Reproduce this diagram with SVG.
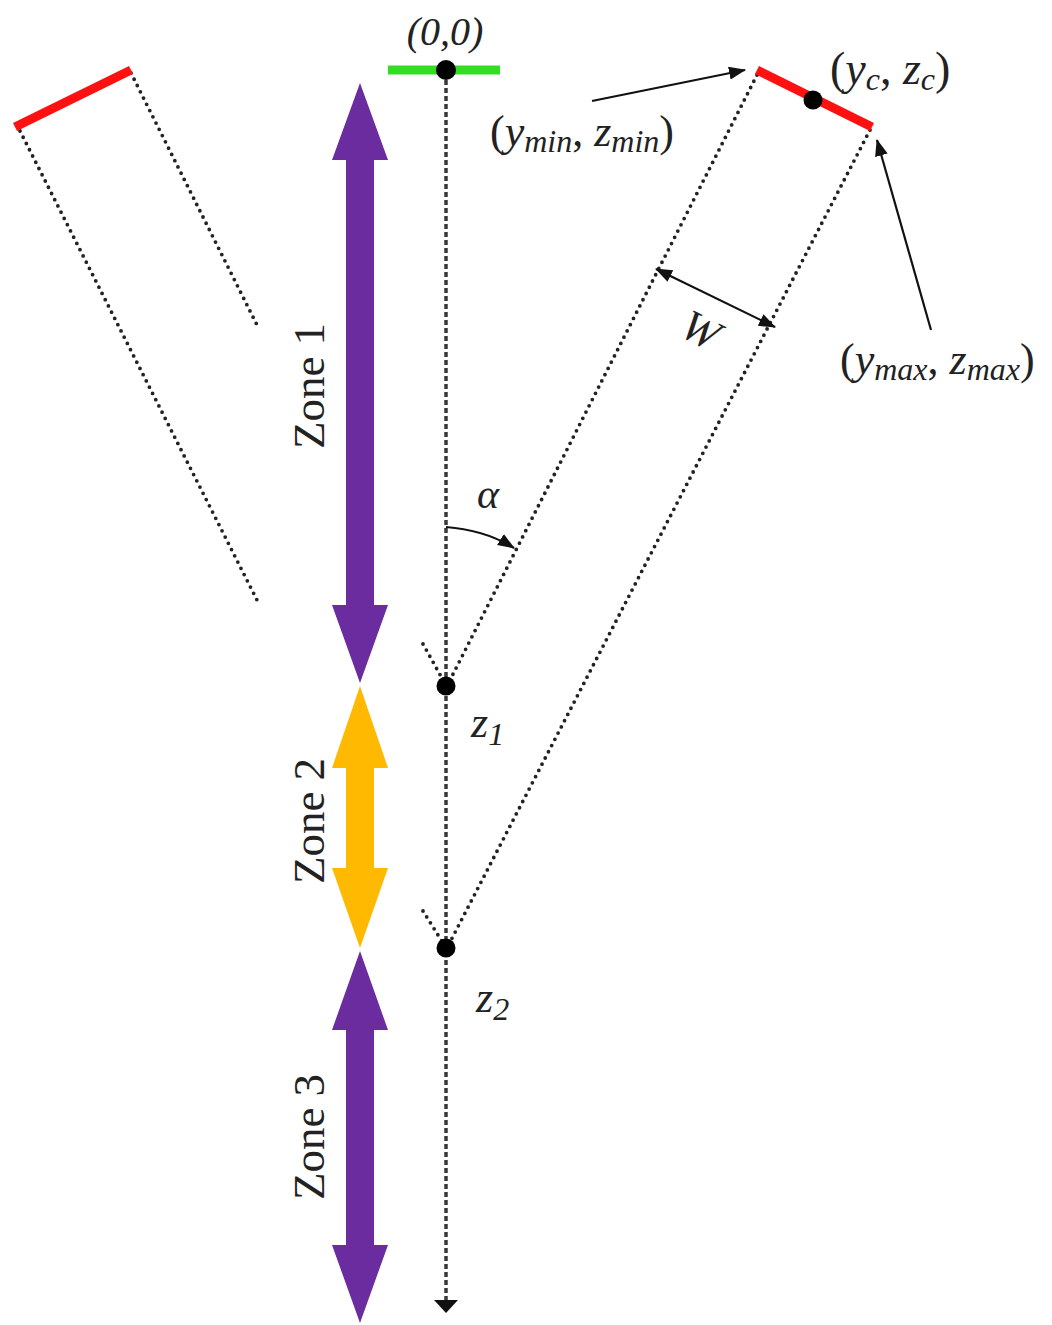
<svg xmlns="http://www.w3.org/2000/svg" width="1052" height="1325" viewBox="0 0 1052 1325">
<style>
.t{font-family:"Liberation Serif","Times New Roman",serif;fill:#222}
.i{font-style:italic}
.dash{stroke:#3a3a3a;stroke-width:3.5;stroke-dasharray:5 3;fill:none}
.dot{stroke:#222;stroke-width:3.8;stroke-dasharray:0 7;stroke-linecap:round;fill:none}
.ptr{stroke:#111;stroke-width:2.2;fill:none}
</style>
<defs>
<marker id="ahs" markerWidth="17" markerHeight="13" refX="16" refY="6.5" orient="auto-start-reverse" markerUnits="userSpaceOnUse" viewBox="0 0 17 13">
<path d="M0,0 L17,6.5 L0,13 z" fill="#111"/>
</marker>
</defs>

<g id="connectors">
<line class="dash" x1="446" y1="72" x2="446" y2="1302"/>
<path d="M434,1300 L458,1300 L446,1313 z" fill="#111"/>
<line class="dot" x1="757" y1="75" x2="448" y2="684"/>
<line class="dot" x1="870" y1="130" x2="448" y2="946"/>
<line class="dot" x1="423" y1="644" x2="443" y2="680"/>
<line class="dot" x1="423" y1="911" x2="443" y2="943"/>
<line class="dot" x1="20" y1="131" x2="258" y2="602"/>
<line class="dot" x1="131" y1="73" x2="258" y2="327"/>
<line class="ptr" x1="592" y1="101" x2="745" y2="70" marker-end="url(#ahs)"/>
<line class="ptr" x1="931" y1="330" x2="877" y2="140" marker-end="url(#ahs)"/>
<line class="ptr" x1="656" y1="269" x2="775" y2="327" marker-start="url(#ahs)" marker-end="url(#ahs)"/>
<path class="ptr" d="M446,527 Q485,530 514,548" marker-end="url(#ahs)"/>
</g>

<g id="origin">
<line x1="388" y1="70" x2="500" y2="70" stroke="#33dd22" stroke-width="9"/>
<circle cx="446" cy="70" r="10" fill="#000"/>
<text class="t i" x="445" y="45" font-size="40" text-anchor="middle">(0,0)</text>
</g>

<g id="red-bar-right">
<line x1="757" y1="70" x2="872" y2="127" stroke="#ff1111" stroke-width="9"/>
<circle cx="813" cy="100" r="9.5" fill="#000"/>
</g>

<g id="red-bar-left">
<line x1="15" y1="127" x2="131" y2="70" stroke="#ff1111" stroke-width="9"/>
</g>

<g id="label-yc">
<text class="t" x="830" y="84" font-size="46">(<tspan class="i">y</tspan><tspan class="i" font-size="32" dy="6">c</tspan><tspan dy="-6">, </tspan><tspan class="i">z</tspan><tspan class="i" font-size="32" dy="6">c</tspan><tspan dy="-6">)</tspan></text>
</g>
<g id="label-ymin">
<text class="t" x="490" y="146" font-size="44">(<tspan class="i">y</tspan><tspan class="i" font-size="32" dy="6">min</tspan><tspan dy="-6">, </tspan><tspan class="i">z</tspan><tspan class="i" font-size="32" dy="6">min</tspan><tspan dy="-6">)</tspan></text>
</g>
<g id="label-ymax">
<text class="t" x="840" y="374" font-size="44">(<tspan class="i">y</tspan><tspan class="i" font-size="32" dy="6">max</tspan><tspan dy="-6">, </tspan><tspan class="i">z</tspan><tspan class="i" font-size="32" dy="6">max</tspan><tspan dy="-6">)</tspan></text>
</g>
<g id="label-W">
<text class="t i" x="0" y="0" font-size="44" text-anchor="middle" transform="translate(694,343) rotate(27)">W</text>
</g>
<g id="label-alpha">
<text class="t i" x="488" y="508" font-size="42" text-anchor="middle">α</text>
</g>
<g id="label-z1">
<text class="t i" x="471" y="737" font-size="44">z<tspan font-size="32" dy="8">1</tspan></text>
</g>
<g id="label-z2">
<text class="t i" x="476" y="1012" font-size="44">z<tspan font-size="32" dy="8">2</tspan></text>
</g>
<g id="dot-z1"><circle cx="446" cy="686" r="9.5" fill="#000"/></g>
<g id="dot-z2"><circle cx="446" cy="948" r="9.5" fill="#000"/></g>

<g id="zone1">
<path d="M360,83 L388,160 L374,160 L374,605 L388,605 L360,683 L332,605 L346,605 L346,160 L332,160 z" fill="#6a2c9e"/>
<text class="t" transform="translate(324,386) rotate(-90)" font-size="45" text-anchor="middle">Zone 1</text>
</g>
<g id="zone2">
<path d="M360,686 L388,768 L374,768 L374,868 L388,868 L360,948 L332,868 L346,868 L346,768 L332,768 z" fill="#ffb900"/>
<text class="t" transform="translate(324,821) rotate(-90)" font-size="45" text-anchor="middle">Zone 2</text>
</g>
<g id="zone3">
<path d="M360,951 L388,1030 L374,1030 L374,1245 L388,1245 L360,1323 L332,1245 L346,1245 L346,1030 L332,1030 z" fill="#6a2c9e"/>
<text class="t" transform="translate(324,1137) rotate(-90)" font-size="45" text-anchor="middle">Zone 3</text>
</g>
</svg>
